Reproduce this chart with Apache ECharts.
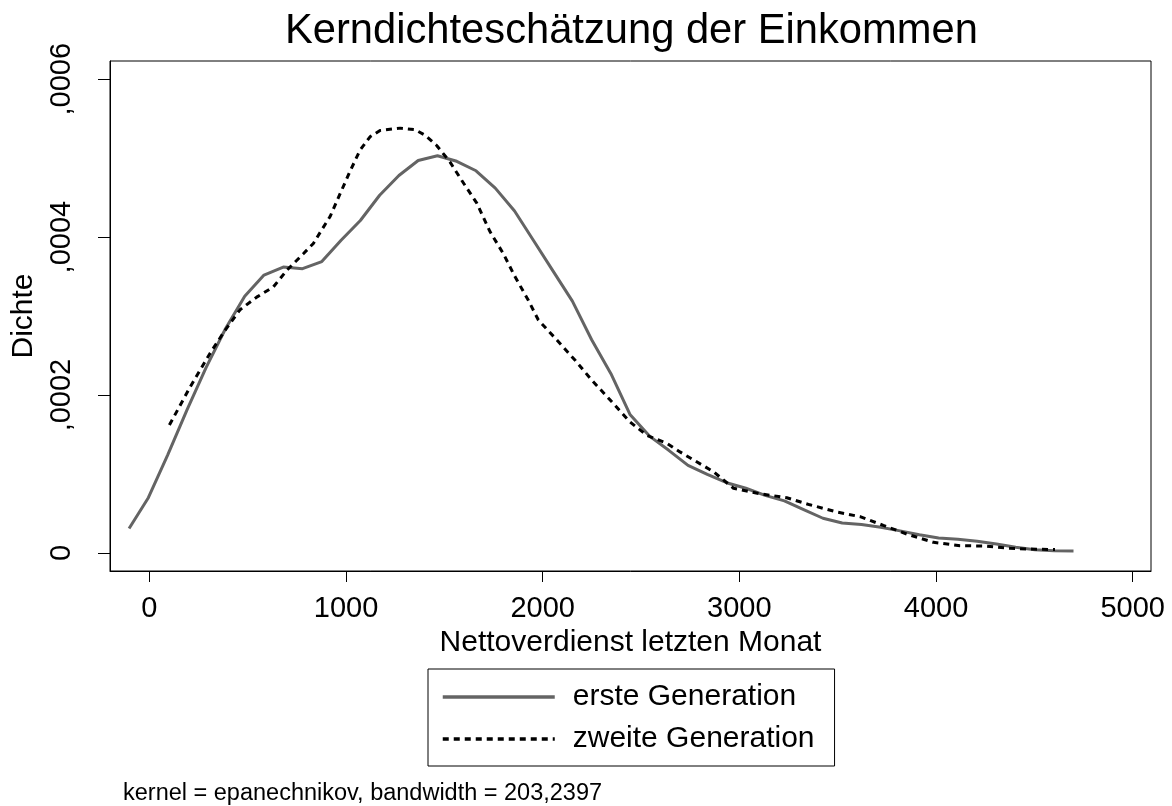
<!DOCTYPE html>
<html>
<head>
<meta charset="utf-8">
<script src="https://cdn.jsdelivr.net/npm/echarts@6/dist/echarts.min.js"></script>
<style>
html,body{margin:0;padding:0;background:#fff;}
#chart{width:1172px;height:806px;}
</style>
</head>
<body>
<div id="chart"></div>
<script>
// ---- data ----
const titleText = 'Kerndichteschätzung der Einkommen';
const xName = 'Nettoverdienst letzten Monat';
const yName = 'Dichte';
const footnote = 'kernel = epanechnikov, bandwidth = 203,2397';
const seriesNames = ['erste Generation', 'zweite Generation'];

const xTicks = [0, 1000, 2000, 3000, 4000, 5000];
const xTickLabels = ['0', '1000', '2000', '3000', '4000', '5000'];
const yTicks = [0, 0.0002, 0.0004, 0.0006];
const yTickLabels = ['0', ',0002', ',0004', ',0006'];

const ersteX = [-103,-5,93,191,289,387,485,583,681,779,877,975,1073,1171,1269,1367,1465,1563,1661,1759,1857,1955,2053,2151,2249,2347,2445,2543,2641,2739,2837,2935,3033,3131,3229,3327,3425,3523,3621,3719,3817,3915,4013,4111,4209,4307,4405,4503,4601,4699];
const ersteY = [0.000031,0.000070,0.000124,0.000181,0.000235,0.000284,0.000325,0.000352,0.000362,0.000360,0.000369,0.000396,0.000421,0.000453,0.000478,0.000497,0.000503,0.000496,0.000484,0.000462,0.000433,0.000395,0.000357,0.000319,0.000270,0.000227,0.000175,0.000148,0.000130,0.000111,0.0000996,0.000089,0.000082,0.000073,0.000066,0.000055,0.000044,0.000038,0.000036,0.0000325,0.000028,0.000023,0.000019,0.0000173,0.0000148,0.0000114,0.0000072,0.0000042,0.0000029,0.0000025];

const zweiteX = [102,207,309,385,461,546,631,699,783,834,876,919,970,1020,1071,1122,1173,1275,1351,1402,1461,1529,1588,1665,1732,1800,1859,1927,1978,2071,2165,2249,2342,2444,2529,2631,2698,2766,2868,2970,3105,3241,3359,3495,3614,3732,3851,3987,4122,4241,4376,4512,4605];
const zweiteY = [0.000162,0.000210,0.000253,0.000282,0.000308,0.000324,0.000337,0.000358,0.000379,0.000392,0.000409,0.000426,0.000455,0.000483,0.000510,0.000527,0.000535,0.000538,0.000536,0.000529,0.000516,0.000495,0.000472,0.000443,0.000407,0.000379,0.000350,0.000320,0.000295,0.000270,0.000244,0.000219,0.000194,0.000166,0.000149,0.000139,0.000128,0.000118,0.000103,0.000082,0.000075,0.000070,0.000061,0.000052,0.000046,0.000035,0.000024,0.0000135,0.0000092,0.0000089,0.0000059,0.0000047,0.0000045];

// ---- chart ----
const zip = (xs, ys) => xs.map((x, i) => [x, ys[i]]);
const FONT = '"Liberation Sans", Arial, sans-serif';
const lookup = (ticks, labels) => function (v) {
  const i = ticks.findIndex(t => Math.abs(t - v) < Math.abs(ticks[1] - ticks[0]) * 1e-6);
  return i >= 0 ? labels[i] : '';
};

const chart = echarts.init(document.getElementById('chart'), null, {renderer: 'canvas'});
chart.setOption({
  animation: false,
  backgroundColor: '#fff',
  textStyle: {fontFamily: FONT, color: '#000'},
  title: [
    {text: titleText, left: 280, top: 6,
     textStyle: {fontFamily: FONT, fontSize: 41.7, fontWeight: 'normal', color: '#000'}},
    {text: footnote, left: 118, top: 777,
     textStyle: {fontFamily: FONT, fontSize: 23.5, fontWeight: 'normal', color: '#000'}}
  ],
  grid: {left: 110, right: 21, top: 61, bottom: 235, show: true,
         borderColor: '#000', borderWidth: 1, backgroundColor: '#fff'},
  legend: {
    orient: 'vertical', left: 428, top: 669,
    padding: [13, 20, 12, 13],
    borderColor: '#000', borderWidth: 1,
    itemWidth: 112, itemHeight: 30, itemGap: 12,
    itemStyle: {opacity: 0},
    lineStyle: {width: 3.5},
    textStyle: {fontFamily: FONT, fontSize: 30, color: '#000', padding: [0, 0, 0, 13]},
    data: seriesNames
  },
  xAxis: {
    type: 'value', min: -200, max: 5093,
    name: xName, nameLocation: 'middle', nameGap: 50,
    nameTextStyle: {fontFamily: FONT, fontSize: 30, color: '#000'},
    axisLine: {show: true, onZero: false, lineStyle: {color: '#000', width: 1}},
    axisTick: {show: true, inside: false, length: 11, customValues: xTicks, lineStyle: {color: '#000', width: 1}},
    axisLabel: {show: true, margin: 23, customValues: xTicks, fontFamily: FONT, fontSize: 29, color: '#000',
      formatter: lookup(xTicks, xTickLabels)},
    splitLine: {show: false}
  },
  yAxis: {
    type: 'value', min: -0.0000228, max: 0.000623,
    name: yName, nameLocation: 'middle', nameGap: 67, nameRotate: 90,
    nameTextStyle: {fontFamily: FONT, fontSize: 30, color: '#000'},
    axisLine: {show: true, onZero: false, lineStyle: {color: '#000', width: 1}},
    axisTick: {show: true, inside: false, length: 12, customValues: yTicks, lineStyle: {color: '#000', width: 1}},
    axisLabel: {show: true, margin: 34, rotate: 90, customValues: yTicks, fontFamily: FONT, fontSize: 29, color: '#000',
      formatter: lookup(yTicks, yTickLabels)},
    splitLine: {show: false}
  },
  series: [
    {name: seriesNames[0], type: 'line', data: zip(ersteX, ersteY),
     symbol: 'none', smooth: false, color: '#646464',
     lineStyle: {color: '#646464', width: 3, type: 'solid'}},
    {name: seriesNames[1], type: 'line', data: zip(zweiteX, zweiteY),
     symbol: 'none', smooth: false, color: '#000',
     lineStyle: {color: '#000', width: 3, type: [6, 5], cap: 'butt'}}
  ]
});
</script>
</body>
</html>
